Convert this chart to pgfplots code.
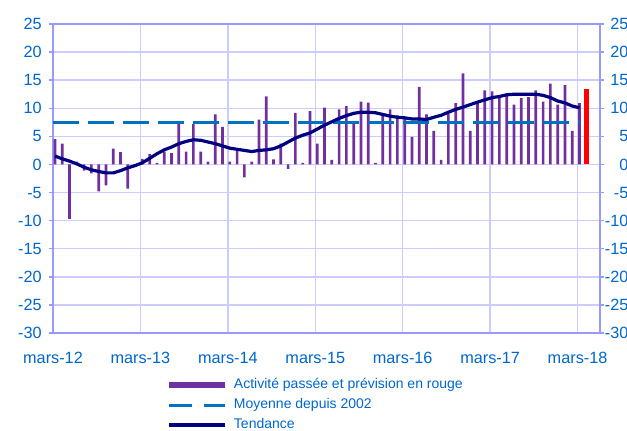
\documentclass[border=0pt]{standalone}
\usepackage{fontspec}
\setmainfont{Liberation Sans}
\usepackage{pgfplots}
\pgfplotsset{compat=1.18}
\definecolor{purp}{RGB}{112,48,160}
\definecolor{dashblue}{RGB}{0,112,192}
\definecolor{navy}{RGB}{0,0,128}
\definecolor{textblue}{RGB}{0,102,204}
\definecolor{gridc}{RGB}{204,204,255}
\definecolor{bordc}{RGB}{153,153,255}

\begin{document}
\begin{tikzpicture}
\path[use as bounding box] (-39.75pt,-72.75pt) rectangle (430.5pt,249.75pt);
\begin{axis}[
  at={(0,0)}, anchor=south west,
  scale only axis, width=410.25pt, height=231.75pt,
  xmin=-0.27, xmax=74.81, ymin=-30, ymax=25,
  xtick={-0.27,11.73,23.73,35.73,47.73,59.73,71.73},
  xticklabels={mars-12,mars-13,mars-14,mars-15,mars-16,mars-17,mars-18},
  ytick={-30,-25,...,25},
  /pgf/number format/assume math mode=true,
  tick label style={font=\fontsize{12.2}{14}\selectfont, text=textblue},
  xticklabel style={anchor=base, inner sep=0pt, yshift=-19.5pt},
  yticklabel style={anchor=east, inner sep=0pt, xshift=-5.25pt},
  grid=major, major grid style={gridc, line width=1.1pt},
  axis line style={bordc, line width=1.3pt},
  xtick style={draw=none},
  ytick style={bordc, line width=1.1pt}, tick align=outside, major tick length=3pt,
  ytick pos=left,
  legend style={at={(axis description cs:0.2048,-0.145)}, anchor=north west,
    draw=none, fill=none, inner sep=0pt, row sep=4.5pt,
    font=\fontsize{10.5}{12}\selectfont, text=textblue,
    nodes={inner sep=0pt, text height=8pt, text depth=2.5pt},
    /tikz/every odd column/.append style={column sep=4.5pt}},
  legend cell align=left,
]
\addplot[ybar, bar width=2pt, bar shift=0pt, fill=purp, draw=none, forget plot] coordinates {
 (0,4.5)(1,3.7)(2,-9.7)(3,0.5)(4,-1.1)(5,-1.6)(6,-4.8)(7,-3.7)(8,2.8)(9,2.2)
 (10,-4.3)(11,-0.3)(12,1.0)(13,1.9)(14,0.3)(15,2.3)(16,2.0)(17,7.3)(18,2.3)(19,7.2)
 (20,2.3)(21,0.5)(22,8.9)(23,6.7)(24,0.5)(25,2.4)(26,-2.3)(27,0.5)(28,8.0)(29,12.1)
 (30,0.9)(31,3.7)(32,-0.8)(33,9.2)(34,0.3)(35,9.5)(36,3.7)(37,10.1)(38,0.8)(39,9.8)
 (40,10.4)(41,7.3)(42,11.2)(43,11.0)(44,0.3)(45,8.75)(46,9.8)(47,8.75)(48,8.2)(49,4.9)
 (50,13.8)(51,8.9)(52,6.0)(53,0.8)(54,9.0)(55,10.9)(56,16.2)(57,6.0)(58,11.2)(59,13.2)
 (60,13.0)(61,11.8)(62,12.4)(63,10.65)(64,11.8)(65,12.0)(66,13.2)(67,11.2)(68,14.4)(69,10.65)
 (70,14.1)(71,6.0)(72,10.9)};
\addplot[ybar, bar width=3.5pt, bar shift=0pt, fill=red, draw=none, forget plot] coordinates {(73,13.5)};
\addplot[dashblue, line width=2.25pt, dash pattern=on 19.5pt off 6.75pt, forget plot] coordinates {(-0.27,7.5)(72,7.5)};
\addplot[navy, line width=2.4pt, line join=round, forget plot] coordinates {
 (0,1.5)(1,1.0)(2,0.6)(3,0.1)(4,-0.5)(5,-0.95)(6,-1.25)(7,-1.5)(8,-1.5)(9,-1.1)
 (10,-0.6)(11,-0.2)(12,0.3)(13,1.1)(14,1.9)(15,2.6)(16,3.1)(17,3.7)(18,4.1)(19,4.4)
 (20,4.3)(21,4.0)(22,3.7)(23,3.3)(24,2.9)(25,2.7)(26,2.5)(27,2.3)(28,2.5)(29,2.6)
 (30,2.8)(31,3.3)(32,4.0)(33,4.7)(34,5.2)(35,5.6)(36,6.3)(37,7.0)(38,7.6)(39,8.2)
 (40,8.7)(41,9.1)(42,9.3)(43,9.3)(44,9.2)(45,8.9)(46,8.6)(47,8.4)(48,8.3)(49,8.1)
 (50,8.1)(51,8.0)(52,8.4)(53,8.75)(54,9.3)(55,9.8)(56,10.2)(57,10.65)(58,11.1)(59,11.5)
 (60,11.9)(61,12.1)(62,12.4)(63,12.5)(64,12.5)(65,12.5)(66,12.5)(67,12.3)(68,11.9)(69,11.3)
 (70,10.95)(71,10.4)(72,10.1)};
\addlegendimage{legend image code/.code={\draw[purp, line width=5pt] (0pt,0pt) -- (42pt,0pt);}}
\addlegendentry{Activité passée et prévision en rouge}
\addlegendimage{legend image code/.code={\draw[dashblue, line width=2.25pt, dash pattern=on 17.25pt off 9pt] (0pt,0pt) -- (42pt,0pt);}}
\addlegendentry{Moyenne depuis 2002}
\addlegendimage{legend image code/.code={\draw[navy, line width=2.4pt] (0pt,0pt) -- (42pt,0pt);}}
\addlegendentry{Tendance}
\end{axis}
\begin{axis}[
  at={(0,0)}, anchor=south west,
  scale only axis, width=410.25pt, height=231.75pt,
  xmin=-0.27, xmax=74.81, ymin=-30, ymax=25,
  ytick={-30,-25,...,25},
  axis x line=none, axis y line*=right,
  axis line style={draw=none},
  /pgf/number format/assume math mode=true,
  tick label style={font=\fontsize{12.2}{14}\selectfont, text=textblue},
  yticklabel style={anchor=east, inner sep=0pt, xshift=18.5pt},
  ytick style={bordc, line width=1.1pt}, tick align=outside, major tick length=3pt,
]
\addplot[draw=none] coordinates {(0,0)};
\end{axis}
\end{tikzpicture}
\end{document}
